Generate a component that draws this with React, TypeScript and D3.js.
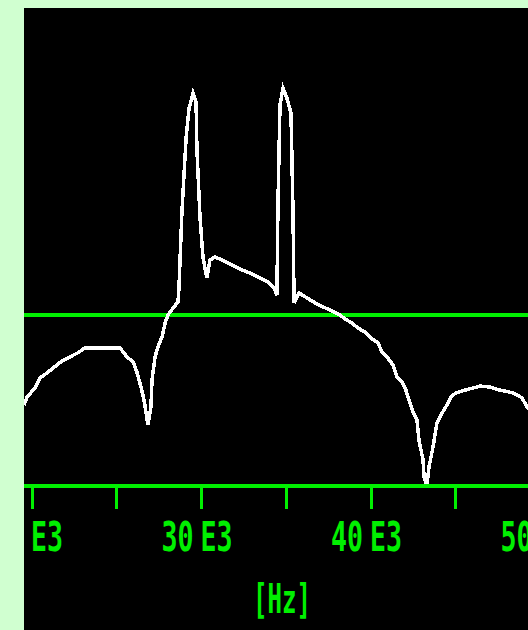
import React from "react";
import * as d3 from "d3";

// spectrum trace (kHz / dB relative to the green reference line)
const freqKHz = [
  19.53, 19.71, 20.18, 20.47, 20.88, 21.24, 21.77, 22.24, 22.71, 23.13,
  25.19, 25.6, 25.96, 26.19, 26.43, 26.61, 26.84, 27.02, 27.08, 27.26,
  27.43, 27.67, 27.85, 28.02, 28.38, 28.61, 28.67, 28.85, 29.09, 29.26,
  29.5, 29.68, 29.73, 29.91, 30.09, 30.32, 30.5, 30.8, 31.21, 31.8,
  32.39, 32.86, 33.45, 33.92, 34.28, 34.45, 34.51, 34.63, 34.81, 35.04,
  35.28, 35.4, 35.46, 35.75, 36.22, 36.7, 37.17, 37.7, 38.17, 38.47,
  38.88, 39.23, 39.65, 40.06, 40.41, 40.65, 40.94, 41.3, 41.53, 41.83,
  42.06, 42.24, 42.48, 42.71, 42.83, 43.07, 43.13, 43.3, 43.42, 43.66,
  43.89, 44.19, 44.48, 44.72, 45.01, 45.55, 46.43, 47.02, 47.61, 48.38,
  48.91, 49.2, 49.3,
];
const levelDb = [
  -20.0, -18.2, -16.2, -14.0, -12.9, -11.8, -10.2, -9.3, -8.4, -7.3,
  -7.3, -9.3, -10.4, -12.7, -16.0, -18.9, -24.4, -20.4, -14.4, -9.3,
  -7.1, -4.9, -1.8, 0, 1.8, 2.9, 6.0, 23.3, 39.3, 45.8,
  49.3, 47.3, 36.7, 21.8, 12.7, 8.2, 12.2, 12.9, 12.2, 11.1,
  10.0, 9.3, 8.2, 7.3, 6.0, 4.4, 24.4, 46.7, 50.4, 48.2,
  44.9, 22.7, 2.7, 4.9, 3.8, 2.7, 1.8, 0.9, 0, -0.9,
  -1.8, -2.9, -3.8, -5.3, -6.2, -8.2, -9.3, -11.1, -13.8, -14.9,
  -16.7, -18.9, -21.6, -23.3, -27.8, -32.2, -36.0, -37.8, -33.8, -29.3,
  -24.0, -21.8, -20.0, -18.2, -17.3, -16.7, -15.8, -16.0, -16.7, -17.3,
  -18.4, -20.4, -21.0,
];
const tickKHz = [15, 20, 25, 30, 35, 40, 45, 50];
const labelKHz = [20, 30, 40, 50];
const refLevel = 0;
const floorLevel = -38;

const W = 528;
const H = 630;
const GREEN = "#00f000";

export default function App() {
  const plot = { left: 24, top: 8, right: W, bottom: H };

  const x = d3.scaleLinear().domain([20, 40]).range([32, 371]);
  const y = d3.scaleLinear().domain([floorLevel, refLevel]).range([486, 315]);

  const pts = freqKHz.map((f, i) => [f, levelDb[i]] as [number, number]);
  const line = d3
    .line<[number, number]>()
    .x((d) => x(d[0]))
    .y((d) => y(d[1]));

  const axisY = y(floorLevel);
  const font = "'DejaVu Sans Mono', monospace";

  return (
    <svg
      width={W}
      height={H}
      style={{ position: "absolute", left: 0, top: 0, display: "block" }}
    >
      <defs>
        <clipPath id="plotClip">
          <rect
            x={plot.left}
            y={plot.top}
            width={plot.right - plot.left}
            height={plot.bottom - plot.top}
          />
        </clipPath>
      </defs>
      <rect x={0} y={0} width={W} height={H} fill="#d0ffd0" />
      <rect
        x={plot.left}
        y={plot.top}
        width={plot.right - plot.left}
        height={plot.bottom - plot.top}
        fill="#000"
      />
      <g clipPath="url(#plotClip)">
        {/* reference line */}
        <line
          x1={plot.left}
          x2={plot.right}
          y1={y(refLevel)}
          y2={y(refLevel)}
          stroke={GREEN}
          strokeWidth={4}
          shapeRendering="crispEdges"
        />
        {/* trace */}
        <path
          d={line(pts) || ""}
          fill="none"
          stroke="#fff"
          strokeWidth={3.5}
          strokeLinejoin="miter"
          shapeRendering="crispEdges"
        />
        {/* frequency axis */}
        <line
          x1={plot.left}
          x2={plot.right}
          y1={axisY}
          y2={axisY}
          stroke={GREEN}
          strokeWidth={4}
          shapeRendering="crispEdges"
        />
        {tickKHz.map((t) => (
          <line
            key={t}
            x1={x(t)}
            x2={x(t)}
            y1={axisY}
            y2={axisY + 23}
            stroke={GREEN}
            strokeWidth={3}
            shapeRendering="crispEdges"
          />
        ))}
        {labelKHz.map((t) => (
          <text
            key={t}
            transform={`translate(${x(t)},551) scale(1,1.4)`}
            fill={GREEN}
            fontFamily={font}
            fontWeight="bold"
            fontSize={29}
          >
            <tspan x={-40} textLength={32} lengthAdjust="spacingAndGlyphs">
              {String(t)}
            </tspan>
            <tspan x={-1} textLength={32} lengthAdjust="spacingAndGlyphs">
              E3
            </tspan>
          </text>
        ))}
        <text
          transform={`translate(282,613) scale(1,1.4)`}
          fill={GREEN}
          fontFamily={font}
          fontWeight="bold"
          fontSize={29}
          textAnchor="middle"
          textLength={58}
          lengthAdjust="spacingAndGlyphs"
        >
          [Hz]
        </text>
      </g>
    </svg>
  );
}
